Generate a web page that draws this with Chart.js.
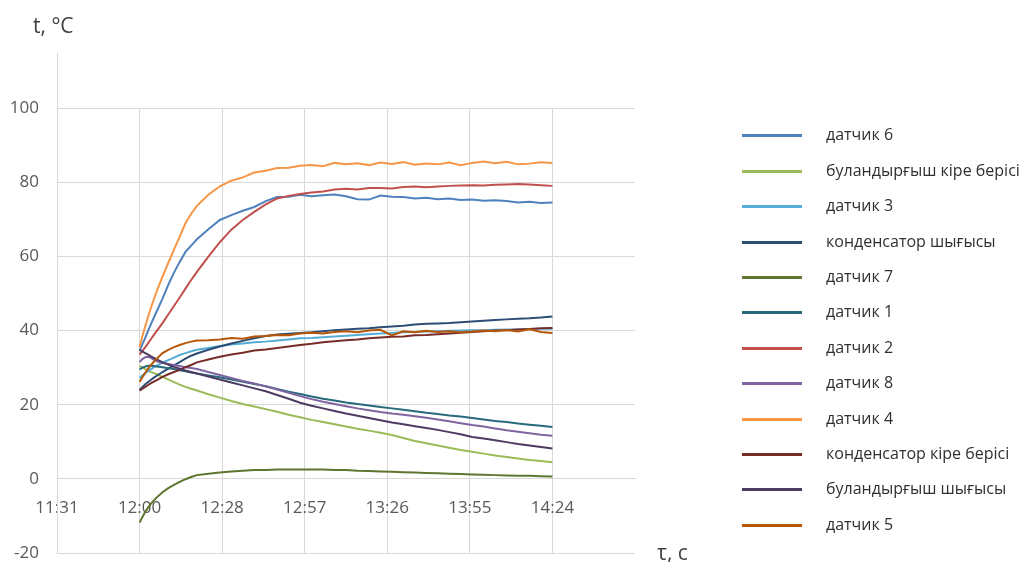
<!DOCTYPE html>
<html>
<head>
<meta charset="utf-8">
<script src="https://cdn.jsdelivr.net/npm/chart.js@4.4.1/dist/chart.umd.min.js"></script>
<style>
  html, body { margin: 0; padding: 0; background: #ffffff; }
  canvas { display: block; }
</style>
</head>
<body>
<canvas id="chart" width="1035" height="562"></canvas>
<script>
// Reading times, minutes after 12:00
const minutesAfterNoon = [0, 1, 2, 3, 4, 5, 6,
  8, 10, 12, 14, 16, 18, 20,
  24, 28, 32, 36, 40, 44, 48, 52,
  56, 60, 64, 68, 72, 76, 80, 84,
  88, 92, 96, 100, 104, 108, 112, 116,
  120, 124, 128, 132, 136, 140, 144];

// Time axis ticks (fractions of a day) and their labels
const tickDayFractions = [0.48, 0.50, 0.52, 0.54, 0.56, 0.58, 0.60];
const timeTickLabels = ['11:31', '12:00', '12:28', '12:57', '13:26', '13:55', '14:24'];
const axisDayRange = [0.48, 0.62];

// Temperature axis, °C
const tempTicks = [-20, 0, 20, 40, 60, 80, 100];

// Temperatures, °C
const datchik6 = [34.5, 36.3, 38.1, 40.0, 41.8, 43.5, 45.2,
  48.6, 52.3, 55.6, 58.5, 61.2, 62.9, 64.6,
  67.3, 69.8, 71.1, 72.3, 73.3, 74.9, 76.0, 76.1,
  76.6, 76.2, 76.5, 76.7, 76.2, 75.4, 75.3, 76.4,
  76.1, 76.0, 75.6, 75.8, 75.4, 75.6, 75.2, 75.3,
  75.0, 75.1, 74.9, 74.5, 74.7, 74.4, 74.5];

const bulandyrgyshKireBerisi = [30.5, 30.0, 29.6, 29.2, 28.8, 28.5, 28.2,
  27.5, 26.8, 26.1, 25.4, 24.8, 24.3, 23.8,
  22.8, 21.9, 21.0, 20.2, 19.5, 18.8, 18.1, 17.3,
  16.6, 15.9, 15.3, 14.7, 14.1, 13.5, 13.0, 12.4,
  11.8, 11.0, 10.2, 9.6, 9.0, 8.4, 7.8, 7.3,
  6.8, 6.3, 5.9, 5.5, 5.1, 4.8, 4.5];

const datchik3 = [27.2, 27.9, 28.5, 29.1, 29.6, 30.1, 30.5,
  31.3, 32.0, 32.7, 33.4, 33.9, 34.4, 34.8,
  35.3, 35.8, 36.2, 36.5, 36.8, 37.0, 37.3, 37.6,
  37.9, 38.0, 38.2, 38.4, 38.6, 38.8, 39.0, 39.2,
  39.3, 39.5, 39.6, 39.7, 39.8, 39.9, 40.0, 40.1,
  40.1, 40.2, 40.3, 40.3, 40.4, 40.5, 40.5];

const kondensatorShygysy = [24.0, 24.8, 25.5, 26.1, 26.7, 27.3, 27.8,
  28.8, 29.7, 30.6, 31.5, 32.4, 33.2, 33.8,
  34.8, 35.7, 36.5, 37.2, 37.9, 38.5, 38.9, 39.1,
  39.3, 39.5, 39.8, 40.1, 40.3, 40.5, 40.6, 40.9,
  41.1, 41.3, 41.6, 41.8, 41.9, 42.0, 42.2, 42.4,
  42.6, 42.8, 43.0, 43.2, 43.3, 43.5, 43.8];

const datchik7 = [-11.8, -10.3, -8.9, -7.7, -6.7, -5.8, -5.0,
  -3.6, -2.5, -1.6, -0.8, -0.1, 0.5, 1.0,
  1.4, 1.7, 2.0, 2.2, 2.4, 2.4, 2.5, 2.5,
  2.5, 2.5, 2.5, 2.4, 2.4, 2.2, 2.1, 2.0,
  1.9, 1.8, 1.7, 1.6, 1.5, 1.4, 1.3, 1.2,
  1.1, 1.0, 0.9, 0.8, 0.8, 0.7, 0.6];

const datchik1 = [29.5, 30.0, 30.3, 30.5, 30.5, 30.4, 30.3,
  30.1, 29.8, 29.6, 29.3, 29.0, 28.7, 28.4,
  27.9, 27.4, 26.8, 26.2, 25.6, 25.0, 24.2, 23.5,
  22.9, 22.2, 21.6, 21.1, 20.6, 20.2, 19.8, 19.4,
  19.0, 18.6, 18.2, 17.8, 17.5, 17.1, 16.8, 16.4,
  16.0, 15.6, 15.3, 14.9, 14.6, 14.3, 14.0];

const datchik2 = [33.5, 34.5, 35.5, 36.6, 37.7, 38.8, 39.9,
  42.0, 44.3, 46.6, 48.9, 51.3, 53.6, 55.8,
  59.9, 63.8, 67.2, 69.8, 72.0, 74.0, 75.6, 76.3,
  76.8, 77.2, 77.5, 78.0, 78.2, 78.0, 78.4, 78.4,
  78.3, 78.7, 78.8, 78.6, 78.8, 79.0, 79.1, 79.2,
  79.1, 79.3, 79.4, 79.5, 79.4, 79.2, 79.0];

const datchik8 = [31.5, 32.3, 32.8, 32.9, 32.6, 32.1, 31.7,
  31.3, 31.0, 30.7, 30.4, 30.1, 29.9, 29.6,
  28.8, 28.0, 27.2, 26.4, 25.7, 24.9, 24.1, 23.2,
  22.3, 21.5, 20.8, 20.2, 19.6, 19.0, 18.5, 18.0,
  17.6, 17.3, 16.9, 16.5, 16.0, 15.5, 15.0, 14.5,
  14.1, 13.6, 13.1, 12.7, 12.3, 11.9, 11.6];

const datchik4 = [35.5, 38.5, 41.2, 43.8, 46.2, 48.5, 50.6,
  54.5, 58.2, 61.8, 65.3, 68.9, 71.5, 73.6,
  76.6, 78.9, 80.4, 81.3, 82.6, 83.1, 83.8, 83.9,
  84.4, 84.6, 84.3, 85.2, 84.8, 85.1, 84.6, 85.3,
  84.9, 85.4, 84.7, 85.0, 84.8, 85.3, 84.6, 85.2,
  85.6, 85.1, 85.5, 84.8, 85.0, 85.4, 85.2];

const kondensatorKireBerisi = [23.8, 24.3, 24.8, 25.3, 25.8, 26.2, 26.6,
  27.5, 28.2, 28.8, 29.4, 30.1, 30.7, 31.4,
  32.2, 32.9, 33.5, 34.0, 34.6, 34.9, 35.3, 35.7,
  36.1, 36.4, 36.8, 37.1, 37.4, 37.6, 37.9, 38.1,
  38.3, 38.4, 38.7, 38.8, 39.0, 39.2, 39.4, 39.6,
  39.8, 40.0, 40.1, 40.3, 40.4, 40.6, 40.7];

const bulandyrgyshShygysy = [34.8, 34.3, 33.9, 33.5, 33.0, 32.6, 32.2,
  31.4, 30.8, 30.2, 29.7, 29.2, 28.8, 28.4,
  27.6, 26.8, 26.0, 25.2, 24.4, 23.6, 22.6, 21.6,
  20.5, 19.7, 19.0, 18.3, 17.6, 17.0, 16.4, 15.8,
  15.2, 14.7, 14.2, 13.7, 13.2, 12.6, 12.0, 11.3,
  10.9, 10.4, 9.9, 9.4, 9.0, 8.6, 8.2];

const datchik5 = [26.1, 27.4, 28.6, 29.7, 30.7, 31.6, 32.4,
  33.9, 34.8, 35.5, 36.1, 36.6, 37.0, 37.3,
  37.4, 37.6, 38.0, 37.8, 38.4, 38.5, 38.8, 38.7,
  39.2, 39.4, 39.2, 39.6, 39.8, 39.5, 40.0, 40.2,
  38.7, 39.8, 39.5, 39.9, 39.6, 39.8, 39.5, 39.7,
  40.0, 39.8, 40.1, 39.7, 40.3, 39.6, 39.3];

const seriesLabels = ['датчик 6', 'буландырғыш кіре берісі', 'датчик 3', 'конденсатор шығысы',
  'датчик 7', 'датчик 1', 'датчик 2', 'датчик 8', 'датчик 4',
  'конденсатор кіре берісі', 'буландырғыш шығысы', 'датчик 5'];
const seriesValues = [datchik6, bulandyrgyshKireBerisi, datchik3, kondensatorShygysy,
  datchik7, datchik1, datchik2, datchik8, datchik4,
  kondensatorKireBerisi, bulandyrgyshShygysy, datchik5];
const seriesColors = ['#4F81BD', '#9BBB59', '#55ACD6', '#2C4D75',
  '#5F7530', '#276A7C', '#C0504D', '#8064A2', '#F79646',
  '#772C2A', '#4D3B62', '#B65708'];

const yTitle = 't, °C';
const xTitle = 'τ, с';

const GRID = '#d9d9d9';
const TICK_COLOR = '#595959';
const FONT = '"Open Sans", "DejaVu Sans", sans-serif';

const NOON = 12 * 60;
const DAY_MIN = 24 * 60;

// Legend geometry
const LEGEND_PAD = 19.4;
const LEGEND_LEFT = 742 - LEGEND_PAD;
const LEGEND_WIDTH = 1035 - LEGEND_LEFT;
const PLOT_RIGHT = 635;

// Legend swatches: a 60px line inside a 76px slot
const swatches = seriesColors.map(color => {
  const c = document.createElement('canvas');
  c.width = 76; c.height = 3;
  const g = c.getContext('2d');
  g.fillStyle = color;
  g.fillRect(0, 0, 60, 3);
  return c;
});

const datasets = seriesLabels.map((label, i) => ({
  label,
  data: minutesAfterNoon.map((m, k) => ({ x: NOON + m, y: seriesValues[i][k] })),
  borderColor: seriesColors[i],
  backgroundColor: seriesColors[i],
  borderWidth: 2,
  pointRadius: 0,
  pointHoverRadius: 0,
  tension: 0,
  fill: false,
  order: seriesLabels.length - i
}));

const clockText = (minutes) => {
  const h = Math.floor(minutes / 60 + 1e-9);
  const m = Math.floor(minutes - h * 60 + 1e-6);
  return h + ':' + String(m).padStart(2, '0');
};

const fixedLegendWidth = {
  id: 'fixedLegendWidth',
  beforeUpdate(chart) {
    const lg = chart.legend;
    if (lg && !lg.__fixedWidth) {
      const fit = lg.fit;
      lg.fit = function () {
        fit.call(this);
        this.width = LEGEND_WIDTH;
      };
      lg.__fixedWidth = true;
    }
  }
};

const axisDecor = {
  id: 'axisDecor',
  afterDraw(chart) {
    const { ctx, chartArea } = chart;
    ctx.save();
    // the vertical axis line runs on above the top gridline
    const x = Math.round(chartArea.left) + 0.5;
    ctx.strokeStyle = GRID;
    ctx.lineWidth = 1;
    ctx.beginPath();
    ctx.moveTo(x, chartArea.top - 55);
    ctx.lineTo(x, chartArea.top);
    ctx.stroke();
    // axis titles
    ctx.font = '21px ' + FONT;
    ctx.fillStyle = '#404040';
    ctx.textAlign = 'left';
    ctx.textBaseline = 'alphabetic';
    ctx.fillText(yTitle, 33, 33);
    ctx.fillText(xTitle, chartArea.right + 22, chartArea.bottom + 7);
    ctx.restore();
  }
};

new Chart(document.getElementById('chart'), {
  type: 'line',
  data: { datasets },
  plugins: [fixedLegendWidth, axisDecor],
  options: {
    responsive: false,
    animation: false,
    devicePixelRatio: 1,
    layout: { padding: { top: 108, bottom: 9, left: 0, right: 0 } },
    interaction: { mode: 'nearest', intersect: false },
    plugins: {
      tooltip: { enabled: false },
      title: { display: false },
      legend: {
        position: 'right',
        align: 'center',
        labels: {
          usePointStyle: true,
          pointStyleWidth: 76,
          padding: LEGEND_PAD,
          color: '#303030',
          font: { family: FONT, size: 16 },
          sort: (a, b) => a.datasetIndex - b.datasetIndex,
          generateLabels(chart) {
            const items = Chart.defaults.plugins.legend.labels.generateLabels(chart);
            items.forEach(it => { it.pointStyle = swatches[it.datasetIndex]; });
            return items;
          }
        }
      }
    },
    scales: {
      x: {
        type: 'linear',
        position: { y: 0 },
        min: axisDayRange[0] * DAY_MIN,
        max: axisDayRange[1] * DAY_MIN,
        afterBuildTicks(scale) {
          scale.ticks = tickDayFractions.map(f => ({ value: f * DAY_MIN }));
        },
        afterFit(scale) {
          scale.paddingLeft = 0; scale.paddingRight = 0;
          scale.paddingTop = 0; scale.paddingBottom = 0;
        },
        grid: { color: GRID, lineWidth: 1, drawTicks: false },
        border: { display: true, color: GRID },
        ticks: {
          autoSkip: false,
          maxRotation: 0,
          padding: 19,
          color: TICK_COLOR,
          font: { family: FONT, size: 17 },
          callback: (value, index) => timeTickLabels[index] !== undefined ? timeTickLabels[index] : clockText(value)
        }
      },
      y: {
        type: 'linear',
        position: 'left',
        min: tempTicks[0],
        max: tempTicks[tempTicks.length - 1],
        afterBuildTicks(scale) {
          scale.ticks = tempTicks.map(v => ({ value: v }));
        },
        afterFit(scale) {
          scale.width = 57;
          scale.paddingTop = 0; scale.paddingBottom = 0;
        },
        grid: { color: GRID, lineWidth: 1, drawTicks: false },
        border: { display: true, color: GRID },
        ticks: {
          padding: 18,
          color: TICK_COLOR,
          font: { family: FONT, size: 17 }
        }
      },
      gap: {
        type: 'linear',
        position: 'right',
        display: true,
        grid: { display: false, drawTicks: false },
        border: { display: false },
        ticks: { display: false },
        afterFit(scale) {
          scale.width = LEGEND_LEFT - PLOT_RIGHT;
          scale.paddingTop = 0; scale.paddingBottom = 0;
        }
      }
    }
  }
});
</script>
</body>
</html>
